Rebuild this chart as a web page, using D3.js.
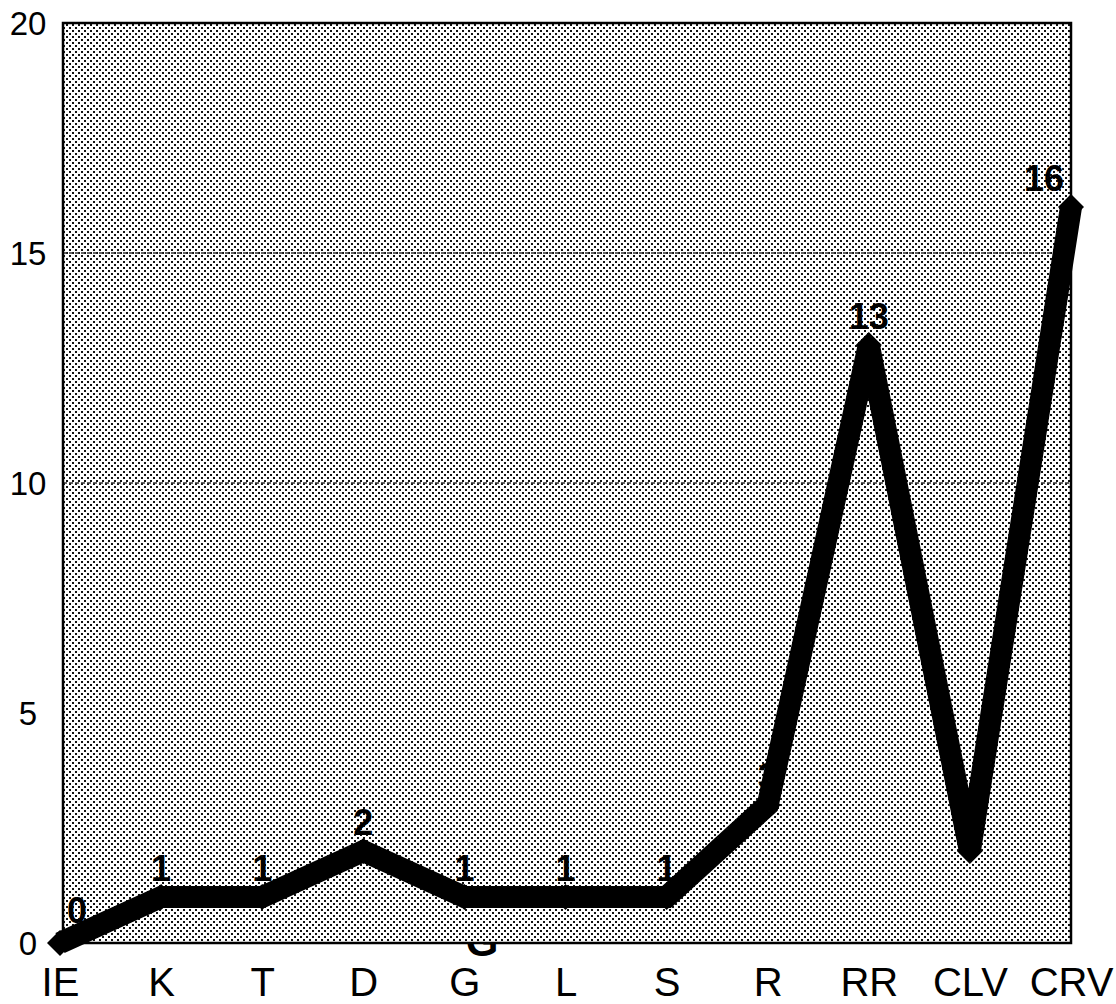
<!DOCTYPE html>
<html>
<head>
<meta charset="utf-8">
<script src="https://cdn.jsdelivr.net/npm/d3@7"></script>
<style>
  html, body { margin: 0; padding: 0; background: #fff; }
  svg { display: block; }
  text { font-family: Arial, "Liberation Sans", sans-serif; fill: #000; }
</style>
</head>
<body>
<svg id="chart" width="1116" height="1004"></svg>
<script>
// ---- data ----
const categories = ["IE", "K", "T", "D", "G", "L", "S", "R", "RR", "CLV", "CRV"];
const values     = [0, 1, 1, 2, 1, 1, 1, 3, 13, 2, 16];
const yTicks     = [0, 5, 10, 15, 20];
const gridValues = [10, 15];

// ---- layout ----
const svg = d3.select("#chart");
const plot = { left: 63, right: 1071, top: 23, bottom: 943 };

const x = d3.scalePoint().domain(categories).range([60, 1071]);
const y = d3.scaleLinear().domain([0, 20]).range([plot.bottom, plot.top]);

// halftone pattern
const defs = svg.append("defs");
const pat = defs.append("pattern")
  .attr("id", "halftone").attr("patternUnits", "userSpaceOnUse")
  .attr("width", 6).attr("height", 6);
pat.append("rect").attr("width", 6).attr("height", 6).attr("fill", "#fff");
pat.append("rect").attr("x", 0).attr("y", 0).attr("width", 2).attr("height", 2).attr("fill", "#111");
pat.append("rect").attr("x", 3).attr("y", 3).attr("width", 2).attr("height", 2).attr("fill", "#111");

// stray scan artefact letter below the axis (partly hidden by plot area)
svg.append("text").attr("x", 482).attr("y", 956)
  .attr("text-anchor", "middle").attr("font-size", 42).attr("font-weight", "bold")
  .text("G");

// plot background
svg.append("rect")
  .attr("x", plot.left).attr("y", plot.top)
  .attr("width", plot.right - plot.left).attr("height", plot.bottom - plot.top)
  .attr("fill", "url(#halftone)");

// gridlines
svg.append("g").selectAll("line").data(gridValues).join("line")
  .attr("x1", plot.left).attr("x2", plot.right)
  .attr("y1", d => y(d)).attr("y2", d => y(d))
  .attr("stroke", "#333").attr("stroke-width", 1.5)
  .attr("stroke-dasharray", "4,2");

// border
svg.append("rect")
  .attr("x", plot.left).attr("y", plot.top)
  .attr("width", plot.right - plot.left).attr("height", plot.bottom - plot.top)
  .attr("fill", "none").attr("stroke", "#000").attr("stroke-width", 2.5);

// y axis labels
const yAxis = d3.axisLeft(y).tickValues(yTicks).tickSize(0).tickPadding(0);
const yg = svg.append("g").attr("transform", "translate(28,0)").call(yAxis);
yg.select(".domain").remove();
yg.selectAll("text")
  .attr("text-anchor", "middle")
  .attr("dy", "0.36em")
  .attr("font-size", 33)
  .style("font-family", "Arial, 'Liberation Sans', sans-serif");

// x axis labels
const xAxis = d3.axisBottom(x).tickSize(0).tickPadding(0);
const xg = svg.append("g").attr("transform", "translate(0,996)").call(xAxis);
xg.select(".domain").remove();
xg.selectAll("text")
  .attr("dy", 0).attr("y", 0)
  .attr("font-size", 40)
  .style("font-family", "Arial, 'Liberation Sans', sans-serif");

// data labels (drawn beneath the line)
const pts = categories.map((c, i) => ({ c, v: values[i], i }));
svg.append("g").selectAll("text").data(pts).join("text")
  .attr("x", d => x(d.c) + (d.i === 0 ? 17 : d.i === pts.length - 1 ? -27 : 0))
  .attr("y", d => y(d.v) - (d.i === 0 ? 20 : 16))
  .attr("text-anchor", "middle")
  .attr("font-size", 36).attr("font-weight", "bold")
  .text(d => d.v);

// line
const line = d3.line().x(d => x(d.c)).y(d => y(d.v));
svg.append("path").datum(pts)
  .attr("d", line)
  .attr("fill", "none").attr("stroke", "#000")
  .attr("stroke-width", 22).attr("stroke-linejoin", "miter")
  .attr("stroke-miterlimit", 2);

// diamond markers
const r = 13;
svg.append("g").selectAll("path").data(pts).join("path")
  .attr("d", d => {
    const cx = x(d.c), cy = y(d.v);
    return `M${cx},${cy - r}L${cx + r},${cy}L${cx},${cy + r}L${cx - r},${cy}Z`;
  })
  .attr("fill", "#000");
</script>
</body>
</html>
